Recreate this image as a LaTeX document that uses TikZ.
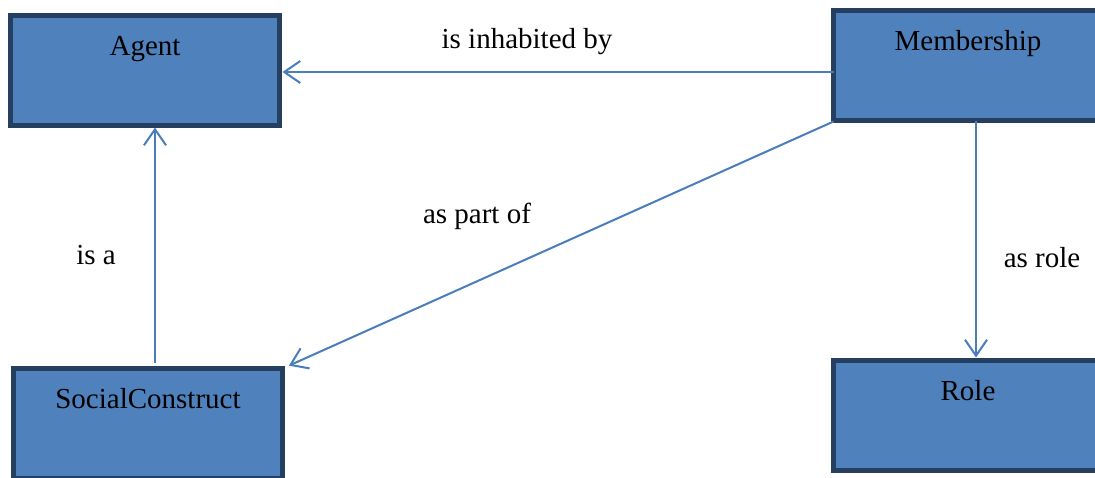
\documentclass[tikz,border=0pt]{standalone}
\usepackage{fontspec}
\setmainfont{Liberation Serif}
\usepackage{tikz}
\usetikzlibrary{arrows.meta,calc}
\definecolor{boxfill}{HTML}{4F81BD}
\definecolor{boxline}{HTML}{243F60}
\definecolor{linkblue}{HTML}{4A7EBB}

\begin{document}
\begin{tikzpicture}[
    x=1pt, y=-1pt,
    every node/.style={font=\fontsize{29}{34}\selectfont, text=black},
    concept/.style={
      draw=boxline,
      fill=boxfill,
      line width=5pt,
      anchor=north west,
      outer sep=0pt,
      inner ysep=0pt,
      minimum width=269pt,
      text height=39.5pt,
      text depth=70.5pt
    },
    relation/.style={anchor=base},
    link/.style={
      draw=linkblue,
      line width=2pt,
      -{Straight Barb[length=16pt,width=22pt,line width=2pt]}
    }
  ]
    \useasboundingbox (0,0) rectangle (1095,477);

    % classes
    \node[concept] (agent)  at (10.5,15.5)   {Agent};
    \node[concept] (member) at (833.5,10.5)  {Membership};
    \node[concept] (social) at (13.5,368.5)  {SocialConstruct};
    \node[concept] (role)   at (833.5,360.5) {Role};

    % properties
    \draw[link, shorten >=3pt] (member.west |- 0,72) -- (agent.east |- 0,72);
    \draw[link, shorten >=7pt] ($(member.south west)+(0,1)$) -- (social.north east);
    \draw[link, shorten <=6pt, shorten >=2pt]
      ([xshift=7pt]social.north) -- ([xshift=7pt]social.north |- agent.south);
    \draw[link, shorten >=3pt]
      ([xshift=8pt]member.south) -- ([xshift=8pt]member.south |- role.north);

    \node[relation] (inhabited) at (527,48)  {is inhabited by};
    \node[relation] (partof)    at (477,223) {as part of};
    \node[relation] (isa)       at (96,264)  {is a};
    \node[relation] (asrole)    at (1042,267) {as role};
\end{tikzpicture}
\end{document}
